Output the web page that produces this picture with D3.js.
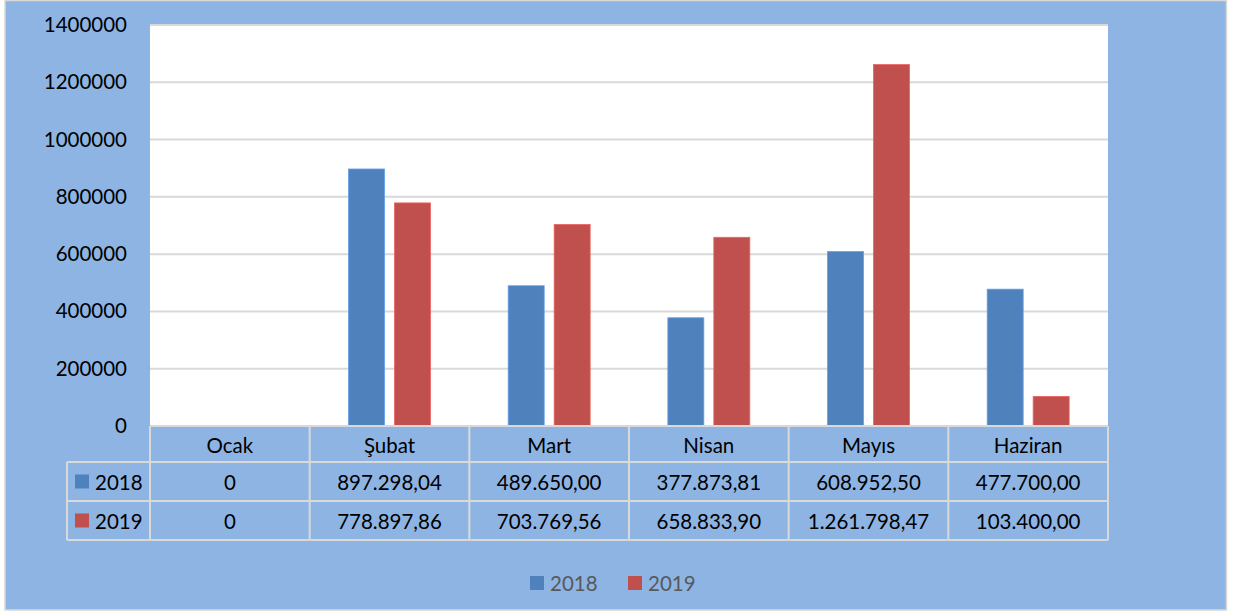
<!DOCTYPE html>
<html>
<head>
<meta charset="utf-8">
<script src="https://cdn.jsdelivr.net/npm/d3@7"></script>
<style>
  html, body { margin: 0; padding: 0; background: #ffffff; }
  svg { display: block; }
  text { font-family: Lato, "Open Sans", sans-serif; }
</style>
</head>
<body>
<svg id="chart" width="1238" height="614"></svg>
<script>
const categories = ["Ocak", "Şubat", "Mart", "Nisan", "Mayıs", "Haziran"];
const seriesNames = ["2018", "2019"];
const values2018 = [0, 897298.04, 489650.00, 377873.81, 608952.50, 477700.00];
const values2019 = [0, 778897.86, 703769.56, 658833.90, 1261798.47, 103400.00];
const yTicks = [0, 200000, 400000, 600000, 800000, 1000000, 1200000, 1400000];
const seriesColors = ["#4F81BD", "#C0504D"];

const series = [
  { name: seriesNames[0], values: values2018, color: seriesColors[0] },
  { name: seriesNames[1], values: values2019, color: seriesColors[1] }
];

const svg = d3.select("#chart");
const W = 1238, H = 614;
const plot = { left: 150, right: 1108, top: 25, bottom: 426 };
const fs = 20.5;

// outer background
svg.append("rect").attr("x", 5).attr("y", 0.5).attr("width", 1221.5).attr("height", 609.5)
  .attr("fill", "#8EB4E3").attr("stroke", "#D9D9D9").attr("stroke-width", 1.5);

// plot area
svg.append("rect").attr("x", plot.left).attr("y", plot.top)
  .attr("width", plot.right - plot.left).attr("height", plot.bottom - plot.top)
  .attr("fill", "#ffffff");

const x = d3.scaleBand().domain(categories).range([plot.left, plot.right]).padding(0);
const y = d3.scaleLinear().domain([0, 1400000]).range([plot.bottom, plot.top]);
const xs = d3.scaleBand().domain(seriesNames).range([0, x.bandwidth()])
  .paddingInner(0.217).paddingOuter(0.845);

// gridlines
svg.append("g")
  .selectAll("line").data(yTicks.filter(t => t > 0)).join("line")
  .attr("x1", plot.left).attr("x2", plot.right)
  .attr("y1", d => y(d)).attr("y2", d => y(d))
  .attr("stroke", "#D9D9D9").attr("stroke-width", 2);

// y axis labels
const yAxis = d3.axisLeft(y).tickValues(yTicks).tickFormat(d3.format("d")).tickSize(0).tickPadding(23);
const gy = svg.append("g").attr("transform", `translate(${plot.left},0)`).call(yAxis);
gy.select(".domain").remove();
gy.selectAll("text").attr("font-size", fs).attr("fill", "#000000")
  .attr("font-family", "Lato, 'Open Sans', sans-serif");

// bars
series.forEach(s => {
  svg.append("g").selectAll("rect").data(s.values).join("rect")
    .attr("x", (d, i) => x(categories[i]) + xs(s.name))
    .attr("width", xs.bandwidth())
    .attr("y", d => y(d))
    .attr("height", d => y(0) - y(d))
    .attr("fill", s.color)
    .attr("stroke", d3.color(s.color).brighter(0.6))
    .attr("stroke-width", d => d > 0 ? 0.8 : 0);
});

// data table
const rowTops = [426, 462, 501, 540];
const labelLeft = 67;
const border = "#D9D9D9";
const tbl = svg.append("g");
// horizontal lines
tbl.append("line").attr("x1", plot.left).attr("x2", plot.right).attr("y1", rowTops[0]).attr("y2", rowTops[0])
  .attr("stroke", border).attr("stroke-width", 2);
[1, 2, 3].forEach(r => {
  tbl.append("line").attr("x1", labelLeft).attr("x2", plot.right)
    .attr("y1", rowTops[r]).attr("y2", rowTops[r]).attr("stroke", border).attr("stroke-width", 2);
});
// vertical lines
tbl.append("line").attr("x1", labelLeft).attr("x2", labelLeft).attr("y1", rowTops[1]).attr("y2", rowTops[3])
  .attr("stroke", border).attr("stroke-width", 2);
categories.concat(["__end"]).forEach((c, i) => {
  const xx = i < categories.length ? x(c) : plot.right;
  tbl.append("line").attr("x1", xx).attr("x2", xx).attr("y1", rowTops[0]).attr("y2", rowTops[3])
    .attr("stroke", border).attr("stroke-width", 2);
});
// header text
tbl.selectAll("text.cat").data(categories).join("text").attr("class", "cat")
  .attr("x", d => x(d) + x.bandwidth() / 2).attr("y", (rowTops[0] + rowTops[1]) / 2 + 1)
  .attr("text-anchor", "middle").attr("dominant-baseline", "central")
  .attr("font-size", fs).attr("fill", "#000").text(d => d);

const trLocale = d3.formatLocale({ decimal: ",", thousands: ".", grouping: [3], currency: ["", ""] });
const fmt = trLocale.format(",.2f");
series.forEach((s, r) => {
  const cy = (rowTops[r + 1] + rowTops[r + 2]) / 2;
  tbl.append("rect").attr("x", 75).attr("y", cy - 7).attr("width", 14).attr("height", 14).attr("fill", s.color);
  tbl.append("text").attr("x", 95).attr("y", cy).attr("dominant-baseline", "central")
    .attr("font-size", fs).attr("fill", "#000").text(s.name);
  tbl.selectAll(null).data(s.values).join("text")
    .attr("x", (d, i) => x(categories[i]) + x.bandwidth() / 2).attr("y", cy)
    .attr("text-anchor", "middle").attr("dominant-baseline", "central")
    .attr("font-size", fs).attr("fill", "#000")
    .text(d => d === 0 ? "0" : fmt(d));
});

// legend
const legend = svg.append("g");
const legendX = [530, 628];
series.forEach((s, i) => {
  legend.append("rect").attr("x", legendX[i]).attr("y", 576).attr("width", 14).attr("height", 14).attr("fill", s.color);
  legend.append("text").attr("x", legendX[i] + 20).attr("y", 583).attr("dominant-baseline", "central")
    .attr("font-size", fs).attr("fill", "#595959").text(s.name);
});
</script>
</body>
</html>
